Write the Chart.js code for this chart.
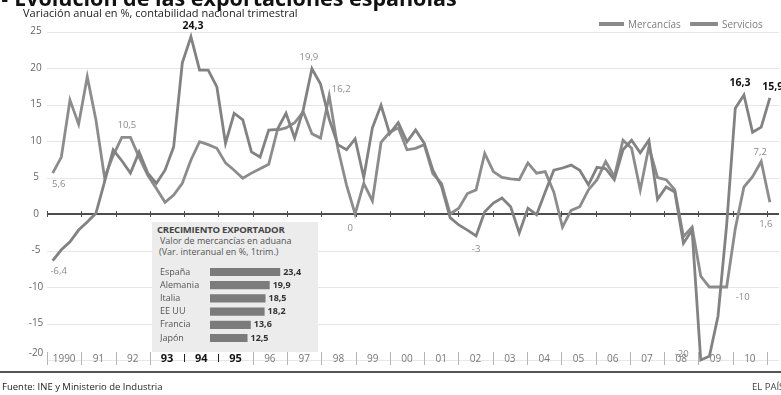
<!DOCTYPE html>
<html>
<head>
<meta charset="utf-8">
<script src="https://cdn.jsdelivr.net/npm/chart.js@4.4.1/dist/chart.umd.min.js"></script>
<style>
  body { margin: 0; background: #fff; font-family: "Open Sans", sans-serif; }
  #page { position: relative; width: 781px; height: 395px; overflow: hidden; background: #fff; }
  #mainChart { position: absolute; left: 0; top: 0; }
  .txt { position: absolute; white-space: nowrap; line-height: 12px; }
  .title { left: 1px; top: -13px; font-size: 21.5px; line-height: 21.5px; font-weight: 700; color: #111; }
  .sub { left: 23px; top: 7px; font-size: 11px; color: #222; }
  .leg { top: 18px; font-size: 10px; color: #7c7c7c; }
  .sw { position: absolute; top: 22px; height: 3.5px; background: #8a8a8a; }
  #inset { position: absolute; left: 152px; top: 222px; width: 166px; height: 130px; background: #ececec; }
  #inset .txt { color: #555; font-size: 9px; }
  #insetChart { position: absolute; left: 0; top: 38px; }
  .rule { position: absolute; left: 0; top: 371px; width: 781px; height: 2px; background: #555; }
  .foot { top: 381px; font-size: 9.5px; color: #222; }
</style>
</head>
<body>
<div id="page">
  <canvas id="mainChart" width="781" height="395"></canvas>

  <div class="txt title">&#9642; Evolución de las exportaciones españolas</div>
  <div class="txt sub">Variación anual en %, contabilidad nacional trimestral</div>

  <div class="sw" style="left:599px;width:25px"></div>
  <div class="txt leg" style="left:628px">Mercancías</div>
  <div class="sw" style="left:690px;width:28px"></div>
  <div class="txt leg" style="left:722px">Servicios</div>

  <div id="inset">
    <div class="txt" style="left:5px;top:2px;font-weight:700;color:#444;font-size:9.5px;letter-spacing:-0.2px">CRECIMIENTO EXPORTADOR</div>
    <div class="txt" style="left:8px;top:13px">Valor de mercancías en aduana</div>
    <div class="txt" style="left:7px;top:24px">(Var. interanual en %, 1trim.)</div>
    <canvas id="insetChart" width="166" height="90"></canvas>
  </div>

  <div class="rule"></div>
  <div class="txt foot" style="left:2px">Fuente: INE y Ministerio de Industria</div>
  <div class="txt foot" style="left:752px;color:#444">EL PAÍS</div>
</div>

<script>
// year labels on the axis band
const years = ["1990", "91", "92", "93", "94", "95", "96", "97", "98", "99", "00",
  "01", "02", "03", "04", "05", "06", "07", "08", "09", "10"];
const boldYears = ["93", "94", "95"];
const yTicks = [25, 20, 15, 10, 5, 0, -5, -10, -15, -20];

// quarterly series, 1990 T1 .. 2010 T4
const mercancias = [
  -6.4, -4.9, -3.8, -2.2,
  -1.1, 0.1, 4.4, 8.8,
  7.3, 5.6, 8.5, 5.6,
  4.2, 6.0, 9.2, 20.7,
  24.3, 19.7, 19.7, 17.4,
  9.7, 13.8, 12.9, 8.5,
  7.8, 11.5, 11.6, 13.8,
  10.4, 14.3, 19.9, 17.8,
  13.0, 9.5, 8.8, 10.3,
  5.0, 11.8, 14.9, 11.0,
  12.5, 9.9, 11.5, 9.7,
  6.0, 3.8, -0.5, -1.5,
  -2.2, -3.0, 0.3, 1.5,
  2.2, 1.0, -2.6, 0.8,
  -0.1, 3.0, 6.0, 6.3,
  6.7, 6.0, 4.0, 6.4,
  6.2, 4.7, 8.8, 10.1,
  8.4, 10.1, 2.0, 3.7,
  3.0, -4.0, -2.2, -20,
  -19.5, -14.0, -1.5, 14.5,
  16.3, 11.2, 11.9, 15.9
];
const servicios = [
  5.6, 7.8, 15.6, 12.3,
  18.8, 12.9, 5.0, 8.0,
  10.5, 10.5, 7.8, 5.3,
  3.5, 1.6, 2.6, 4.2,
  7.4, 9.9, 9.5, 9.0,
  7.0, 6.0, 4.9, 5.6,
  6.2, 6.8, 11.5, 11.8,
  12.5, 14.0, 11.0, 10.4,
  16.2, 9.0, 4.0, 0,
  4.2, 1.8, 9.8, 11.2,
  11.8, 8.8, 9.0, 9.5,
  5.5, 4.2, 0.0, 0.8,
  2.8, 3.3, 8.3, 5.8,
  5.0, 4.8, 4.7, 7.0,
  5.6, 5.8, 3.0, -1.8,
  0.5, 1.0, 3.3, 4.7,
  7.2, 5.1, 10.1, 9.0,
  3.3, 9.2, 5.0, 4.7,
  3.3, -3.1, -1.8, -8.5,
  -10.0, -10.0, -10, -2.0,
  3.7, 5.1, 7.2, 1.6
];

// inset: customs value of goods exports, 1st quarter
const insetCountries = ["España", "Alemania", "Italia", "EE UU", "Francia", "Japón"];
const insetValues = [23.4, 19.9, 18.5, 18.2, 13.6, 12.5];

// which points get a value label, and where it sits relative to the point
const notes = [
  { s: 1, i: 0, dx: 6, dy: 11 },
  { s: 0, i: 0, dx: 6, dy: 11 },
  { s: 1, i: 8, dx: 5, dy: -12 },
  { s: 0, i: 16, dx: 2, dy: -11, bold: true },
  { s: 0, i: 30, dx: -3, dy: -11 },
  { s: 1, i: 32, dx: 12, dy: -6 },
  { s: 1, i: 35, dx: -5, dy: 14 },
  { s: 0, i: 49, dx: 0, dy: 13 },
  { s: 0, i: 75, dx: -19, dy: -6 },
  { s: 1, i: 78, dx: 16, dy: 10 },
  { s: 0, i: 80, dx: -4, dy: -12, bold: true },
  { s: 0, i: 83, dx: 3, dy: -11, bold: true },
  { s: 1, i: 82, dx: -1, dy: -9 },
  { s: 1, i: 83, dx: -4, dy: 22 }
];

const quarters = [];
years.forEach(function (y) {
  for (let q = 1; q <= 4; q++) quarters.push(y + "-T" + q);
});

function fmt(v) {
  return Number.isInteger(v) ? String(v) : v.toFixed(1).replace(".", ",");
}

const FONT = "'Open Sans', sans-serif";

const decor = {
  id: "decor",
  beforeDatasetsDraw(chart) {
    const c = chart.ctx, a = chart.chartArea;
    const y = chart.scales.y, yr = chart.scales.yr;
    c.save();
    // light grid
    yTicks.forEach(function (t) {
      if (t === 0) return;
      const py = Math.round(y.getPixelForValue(t)) + 0.5;
      c.strokeStyle = "#e6e6e6";
      c.lineWidth = 1;
      c.beginPath(); c.moveTo(a.left, py); c.lineTo(779, py); c.stroke();
    });
    // y labels
    c.font = "10px " + FONT;
    c.fillStyle = "#666";
    c.textAlign = "center";
    c.textBaseline = "middle";
    yTicks.forEach(function (t) {
      c.fillText(String(t), 36, y.getPixelForValue(t) + (t === -20 ? -7 : 0));
    });
    // zero line + year ticks
    const zy = y.getPixelForValue(0);
    c.strokeStyle = "#4d4d4d";
    c.lineWidth = 2;
    c.beginPath(); c.moveTo(a.left, zy); c.lineTo(779, zy); c.stroke();
    c.lineWidth = 1;
    for (let n = 0; n <= years.length; n++) {
      const px = Math.round(yr.getPixelForValue(1990 + n)) + 0.5;
      c.beginPath(); c.moveTo(px, zy - 3); c.lineTo(px, zy + 3); c.stroke();
    }
    // year band
    for (let n = 0; n <= years.length; n++) {
      const px = Math.round(yr.getPixelForValue(1990 + n)) + 0.5;
      const dark = n === 4 || n === 5;
      c.strokeStyle = dark ? "#222" : "#b5b5b5";
      c.beginPath(); c.moveTo(px, dark ? 354 : 352); c.lineTo(px, dark ? 362 : 365); c.stroke();
    }
    years.forEach(function (lab, n) {
      const px = yr.getPixelForValue(1990 + n + 0.5);
      const b = boldYears.indexOf(lab) >= 0;
      c.font = (b ? "700 11px " : "10px ") + FONT;
      c.fillStyle = b ? "#111" : "#777";
      c.fillText(lab, px, 359);
    });
    c.restore();
  },
  afterDatasetsDraw(chart) {
    const c = chart.ctx;
    c.save();
    c.textAlign = "center";
    c.textBaseline = "middle";
    notes.forEach(function (n) {
      const v = chart.data.datasets[n.s].data[n.i].y;
      const px = chart.scales.x.getPixelForValue(n.i);
      const py = chart.scales.y.getPixelForValue(v);
      c.font = (n.bold ? "700 10.5px " : "9.5px ") + FONT;
      c.fillStyle = n.bold ? "#111" : "#8a8a8a";
      c.fillText(fmt(v), px + n.dx, py + n.dy);
    });
    c.restore();
  }
};

new Chart(document.getElementById("mainChart"), {
  type: "line",
  data: {
    labels: quarters,
    datasets: [
      {
        label: "Mercancías",
        data: mercancias.map(function (v, i) { return { x: i, y: v }; }),
        borderColor: "#828282",
        borderWidth: 2.8,
        pointRadius: 0,
        tension: 0,
        clip: false
      },
      {
        label: "Servicios",
        data: servicios.map(function (v, i) { return { x: i, y: v }; }),
        borderColor: "#8c8c8c",
        borderWidth: 2.8,
        pointRadius: 0,
        tension: 0,
        clip: false
      }
    ]
  },
  options: {
    responsive: false,
    animation: false,
    layout: { padding: { left: 47, right: 14, top: 31.5, bottom: 35 } },
    plugins: { legend: { display: false }, tooltip: { enabled: false } },
    scales: {
      x: { type: "linear", min: -0.66, max: 82.67, display: false },
      yr: { type: "linear", axis: "x", min: 1990, max: 2011, display: false },
      y: { min: -20, max: 25, display: false }
    }
  },
  plugins: [decor]
});

// inset bar chart
const barValues = {
  id: "barValues",
  afterDatasetsDraw(chart) {
    const c = chart.ctx;
    const meta = chart.getDatasetMeta(0);
    c.save();
    c.font = "700 9px " + FONT;
    c.fillStyle = "#333";
    c.textBaseline = "middle";
    meta.data.forEach(function (bar, i) {
      c.fillText(fmt(insetValues[i]), bar.x + 3, bar.y);
    });
    c.restore();
  }
};

new Chart(document.getElementById("insetChart"), {
  type: "bar",
  data: {
    labels: insetCountries,
    datasets: [{
      data: insetValues,
      backgroundColor: "#7b7b7b",
      barPercentage: 0.62,
      categoryPercentage: 1
    }]
  },
  options: {
    indexAxis: "y",
    responsive: false,
    animation: false,
    layout: { padding: { left: 8, right: 0, top: 0, bottom: 0 } },
    plugins: { legend: { display: false }, tooltip: { enabled: false } },
    scales: {
      x: { min: 0, max: 36, display: false },
      y: {
        grid: { display: false },
        border: { display: false },
        ticks: { crossAlign: "far", padding: 0, color: "#555", font: { family: "Open Sans", size: 9 } },
        afterFit: function (s) { s.width = 50; }
      }
    }
  },
  plugins: [barValues]
});
</script>
</body>
</html>
